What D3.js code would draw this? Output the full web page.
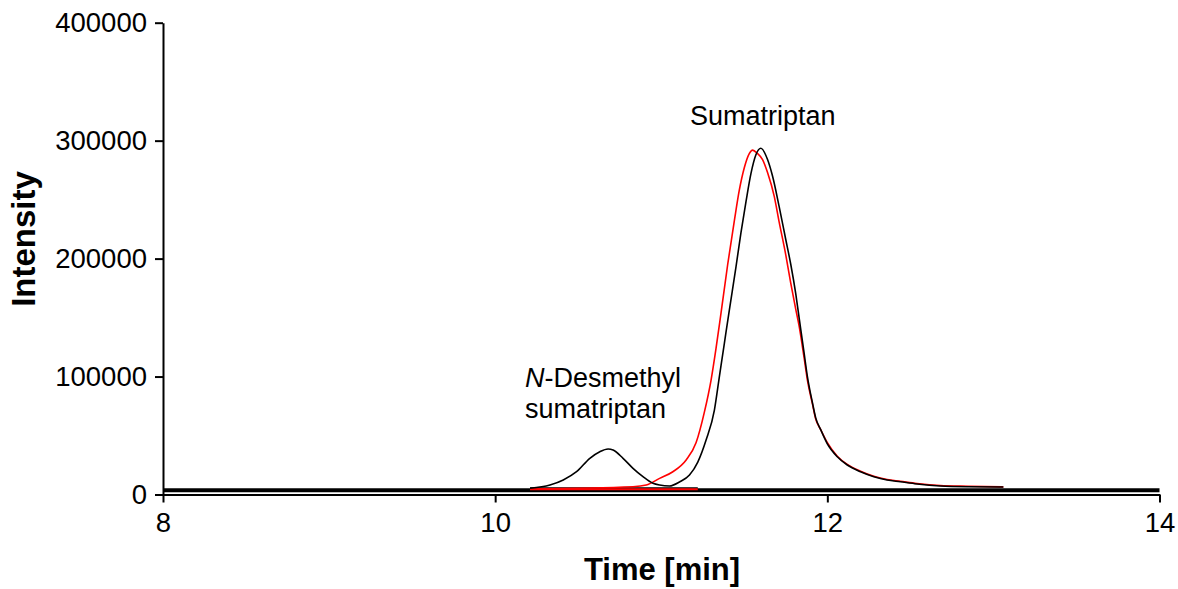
<!DOCTYPE html>
<html>
<head>
<meta charset="utf-8">
<script src="https://cdn.jsdelivr.net/npm/d3@7"></script>
<style>
    body { margin: 0; background: #fff; }
    text { font-family: "Liberation Sans", Arial, sans-serif; }
</style>
</head>
<body>
<div id="chart"></div>
<script>
// Data
var black_time  =   [10.21,10.33,10.41,10.49,10.57,10.63,10.68,10.71,10.77,10.83,10.89,10.95,10.99,11.05,11.11,11.17,11.22,11.27,11.32,11.35,11.38,11.41,11.45,11.48,11.51,11.54,11.57,11.60,11.64,11.67,11.71,11.75,11.78,11.81,11.83,11.86,11.88,11.91,11.93,11.96,12.00,12.06,12.12,12.20,12.28,12.36,12.44,12.54,12.68,12.85,13.06];
var black_value =   [5300,8000,12300,19300,30700,36300,38600,37700,30700,22200,15100,9500,8000,7200,10600,16500,27500,46200,71600,99900,128200,156400,193000,222000,248000,272000,288000,293500,284000,270000,244000,216000,195000,170000,150000,120000,100000,78000,65000,55000,43000,32000,25000,19300,15100,12300,10800,8900,7200,6600,6400];

var red_time    =   [10.21,10.83,10.91,10.99,11.07,11.15,11.21,11.26,11.30,11.33,11.36,11.40,11.44,11.47,11.50,11.53,11.55,11.58,11.61,11.64,11.68,11.71,11.75,11.78,11.81,11.83,11.86,11.88,11.91,11.93,11.96,12.00,12.06,12.12,12.20,12.28,12.36,12.44,12.54,12.68,12.85,13.06];
var red_value   =   [4700,6600,8000,13700,19300,29300,44000,70000,97000,124000,154000,195000,232000,258000,277000,289000,292000,289000,284000,273000,253000,231000,203000,179000,157000,143000,116000,97000,77000,64000,55000,44000,32500,25500,19800,15500,12700,11200,9300,7600,7000,6400];

// flat baselines
var base_time       =   [8, 14];
var base_value      =   [3560, 3560];
var black_base_time =   [10.21, 11.22];
var black_base_val  =   [5500, 5500];
var red_base_time   =   [10.21, 11.22];
var red_base_val    =   [4500, 4500];

var x_ticks     =   [8, 10, 12, 14];
var y_ticks     =   [0, 100000, 200000, 300000, 400000];

var chart_width     =   1178;
var chart_height    =   589;
var svg             =   d3.select( '#chart' )
    .append( 'svg' )
    .attr( 'width', chart_width )
    .attr( 'height', chart_height );

var x_scale = d3.scaleLinear()
                .domain([8, 14])
                .range([163, 1159.5]);

var y_scale = d3.scaleLinear()
                .domain([0, 400000])
                .range([494.5, 22.7]);

function zip( t, v ){
    return t.map(function( d, i ){ return [d, v[i]]; });
}

var line = d3.line()
    .x(function( d ){ return x_scale(d[0]); })
    .y(function( d ){ return y_scale(d[1]); })
    .curve(d3.curveMonotoneX);

// Axes
var x_axis = d3.axisBottom(x_scale)
    .tickValues(x_ticks)
    .tickSize(8)
    .tickSizeOuter(0)
    .tickPadding(10)
    .tickFormat(d3.format('d'));

var y_axis = d3.axisLeft(y_scale)
    .tickValues(y_ticks)
    .tickSize(8)
    .tickSizeOuter(0)
    .tickPadding(8)
    .tickFormat(d3.format('d'));

var gx = svg.append( 'g' )
    .attr( 'transform', 'translate(0,' + y_scale(0) + ')' )
    .call(x_axis);

var gy = svg.append( 'g' )
    .attr( 'transform', 'translate(' + x_scale(8) + ',0)' )
    .call(y_axis);

[gx, gy].forEach(function( g ){
    g.selectAll( 'path, line' )
        .attr( 'stroke', '#000' )
        .attr( 'stroke-width', 2 );
    g.selectAll( 'text' )
        .attr( 'font-size', 27.5 )
        .attr( 'fill', '#000' )
        .style( 'font-family', '"Liberation Sans", Arial, sans-serif' );
});

// Traces
svg.append( 'path' )
    .attr( 'd', line(zip(base_time, base_value)) )
    .attr( 'fill', 'none' )
    .attr( 'stroke', '#000' )
    .attr( 'stroke-width', 4 );

svg.append( 'path' )
    .attr( 'd', line(zip(black_base_time, black_base_val)) )
    .attr( 'fill', 'none' )
    .attr( 'stroke', '#000' )
    .attr( 'stroke-width', 1.5 );

svg.append( 'path' )
    .attr( 'd', line(zip(red_base_time, red_base_val)) )
    .attr( 'fill', 'none' )
    .attr( 'stroke', '#ff0000' )
    .attr( 'stroke-width', 2 );

svg.append( 'path' )
    .attr( 'd', line(zip(red_time, red_value)) )
    .attr( 'fill', 'none' )
    .attr( 'stroke', '#ff0000' )
    .attr( 'stroke-width', 1.6 );

svg.append( 'path' )
    .attr( 'd', line(zip(black_time, black_value)) )
    .attr( 'fill', 'none' )
    .attr( 'stroke', '#000' )
    .attr( 'stroke-width', 1.6 );

// Labels
svg.append( 'text' )
    .attr( 'x', 690 )
    .attr( 'y', 125 )
    .attr( 'font-size', 27 )
    .text( 'Sumatriptan' );

var lbl = svg.append( 'text' )
    .attr( 'x', 525 )
    .attr( 'y', 387 )
    .attr( 'font-size', 27 );
lbl.append( 'tspan' ).attr( 'font-style', 'italic' ).text( 'N' );
lbl.append( 'tspan' ).text( '-Desmethyl' );

svg.append( 'text' )
    .attr( 'x', 525 )
    .attr( 'y', 418 )
    .attr( 'font-size', 27 )
    .text( 'sumatriptan' );

svg.append( 'text' )
    .attr( 'x', 662 )
    .attr( 'y', 580 )
    .attr( 'text-anchor', 'middle' )
    .attr( 'font-size', 31 )
    .attr( 'font-weight', 'bold' )
    .text( 'Time [min]' );

svg.append( 'text' )
    .attr( 'transform', 'translate(35,239) rotate(-90)' )
    .attr( 'text-anchor', 'middle' )
    .attr( 'font-size', 33 )
    .attr( 'font-weight', 'bold' )
    .text( 'Intensity' );
</script>
</body>
</html>
